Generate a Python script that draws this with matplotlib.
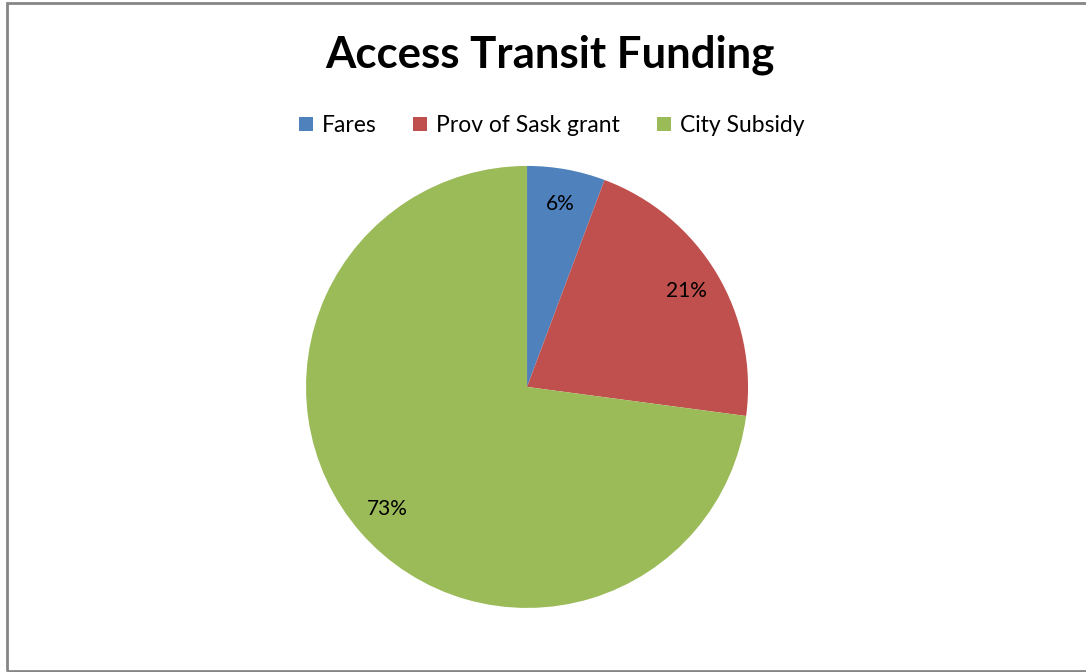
import matplotlib.pyplot as plt
from matplotlib.patches import Rectangle

plt.rcParams['font.family'] = ['Lato', 'DejaVu Sans']

labels = ['Fares', 'Prov of Sask grant', 'City Subsidy']
values = [5.7, 21.4, 72.9]
colors = ['#4F81BD', '#C0504D', '#9BBB59']

fig = plt.figure(figsize=(10.86, 6.72), dpi=100)

# grey chart border
fig.patches.append(Rectangle((0.006, 0.0022), 1.0, 0.994, transform=fig.transFigure,
                             fill=False, edgecolor='#868686', linewidth=2))

ax = fig.add_axes([0.2818, 0.0952, 0.407, 0.658])
wedges, texts, autotexts = ax.pie(values, colors=colors, startangle=90, counterclock=False,
                                  autopct='%.0f%%', pctdistance=0.84,
                                  textprops={'fontsize': 15, 'color': 'black'})
ax.set_xlim(-1, 1)
ax.set_ylim(-1, 1)
ax.set_aspect('equal')
ax.axis('off')

fig.text(0.506, 0.918, 'Access Transit Funding', ha='center', va='center',
         fontsize=31.5, fontweight='bold')

fig.legend(wedges, labels, loc='center', bbox_to_anchor=(0.508, 0.813), ncol=3,
           frameon=False, fontsize=16.5, handlelength=0.6, handleheight=0.6,
           handletextpad=0.4, columnspacing=1.6)

fig.savefig('out.png', dpi=100)
